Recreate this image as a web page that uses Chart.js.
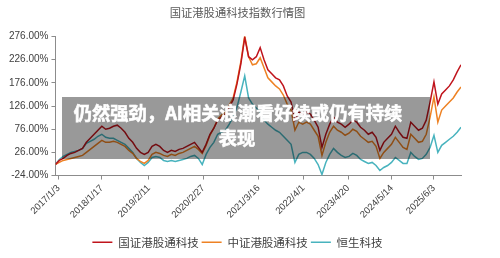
<!DOCTYPE html>
<html>
<head>
<meta charset="utf-8">
<title>国证港股通科技指数行情图</title>
<script src="https://cdn.jsdelivr.net/npm/chart.js@4.4.1/dist/chart.umd.min.js"></script>
<style>
  html, body { margin: 0; padding: 0; background: #fff; }
  #wrap { width: 500px; height: 258px; }
</style>
</head>
<body>
<div id="wrap"><canvas id="trendChart" width="500" height="258"></canvas></div>
<script>
/* chart data (cumulative % since 2017/1/3, about one point a month) */
const chartTitle = '国证港股通科技指数行情图';
const seriesNames = ['国证港股通科技', '中证港股通科技', '恒生科技'];

const gzValues = [
  0, 8.6, 13.0, 19.5, 23.8, 26.0, 30.3, 34.7, 47.7, 56.4, 65.1, 73.8,
  82.5, 76.0, 78.2, 82.5, 84.7, 78.2, 69.5, 56.4, 47.7, 34.7, 26.0, 21.7,
  26.0, 39.0, 43.4, 39.0, 30.3, 26.0, 30.3, 28.2, 32.5, 34.7, 39.0, 43.4,
  47.7, 36.9, 26.0, 43.4, 65.1, 78.2, 95.6, 102.1, 108.6, 123.8, 139.0, 173.8,
  217.3, 273.8, 232.5, 226.0, 232.5, 252.1, 226.0, 204.3, 195.6, 186.9, 182.5, 169.5,
  147.7, 134.7, 95.6, 113.0, 108.6, 113.0, 108.6, 95.6, 80.3, 36.9, 65.1, 86.9,
  102.1, 91.2, 86.9, 80.3, 86.9, 95.6, 91.2, 80.3, 73.8, 65.1, 69.5, 58.6,
  30.3, 47.7, 56.4, 65.1, 82.5, 69.5, 58.6, 56.4, 91.2, 82.5, 73.8, 78.2,
  95.6, 134.7, 178.2, 130.3, 152.1, 160.8, 169.5, 182.5, 199.9, 215.1
];

const zzValues = [
  0, 4.3, 8.6, 10.8, 13.0, 15.1, 17.3, 19.5, 26.0, 32.5, 39.0, 45.6,
  52.1, 47.7, 47.7, 49.9, 47.7, 43.4, 39.0, 30.3, 23.8, 13.0, 6.4, 2.1,
  8.6, 21.7, 26.0, 23.8, 19.5, 17.3, 21.7, 19.5, 23.8, 26.0, 30.3, 34.7,
  39.0, 32.5, 23.8, 41.2, 63.0, 78.2, 97.7, 106.4, 113.0, 128.2, 143.4, 178.2,
  221.6, 278.1, 232.5, 215.1, 217.3, 230.3, 208.6, 186.9, 178.2, 169.5, 163.0, 149.9,
  130.3, 117.3, 73.8, 91.2, 86.9, 91.2, 86.9, 73.8, 60.8, 19.5, 47.7, 69.5,
  82.5, 73.8, 69.5, 63.0, 67.3, 76.0, 71.7, 60.8, 54.3, 47.7, 49.9, 39.0,
  13.0, 26.0, 34.7, 43.4, 58.6, 47.7, 36.9, 32.5, 65.1, 56.4, 47.7, 49.9,
  65.1, 102.1, 145.6, 91.2, 117.3, 126.0, 134.7, 143.4, 156.4, 167.3
];

const hsValues = [
  0, 10.8, 17.3, 21.7, 26.0, 28.2, 30.3, 34.7, 45.6, 49.9, 54.3, 60.8,
  65.1, 58.6, 56.4, 56.4, 52.1, 47.7, 43.4, 34.7, 26.0, 13.0, 4.3, -2.3,
  4.3, 15.1, 17.3, 15.1, 8.6, 6.4, 8.6, 6.4, 8.6, 10.8, 13.0, 17.3,
  19.5, 13.0, -0.1, 21.7, 36.9, 47.7, 65.1, 69.5, 73.8, 86.9, 102.1, 123.8,
  156.4, 191.2, 143.4, 130.3, 121.7, 113.0, 95.6, 86.9, 80.3, 73.8, 69.5, 60.8,
  52.1, 43.4, 4.3, 21.7, 26.0, 26.0, 21.7, 13.0, -0.1, -21.8, 4.3, 21.7,
  34.7, 26.0, 19.5, 15.1, 17.3, 23.8, 19.5, 10.8, 6.4, 2.1, 4.3, -2.3,
  -13.1, -6.6, -2.3, 4.3, 15.1, 8.6, 2.1, 2.1, 26.0, 17.3, 10.8, 13.0,
  21.7, 36.9, 63.0, 26.0, 41.2, 47.7, 54.3, 60.8, 69.5, 80.3
];

const tickLabels = ['2017/1/3', '2018/1/17', '2019/2/11', '2020/2/27', '2021/3/16',
                    '2022/4/1', '2023/4/20', '2024/5/14', '2025/6/3'];
const tickPos = [0.8, 12, 24.2, 38.3, 52.6, 64.2, 75.8, 87.1, 98];
const yTicks = [-24, 26, 76, 126, 176, 226, 276];
const headline = ['仍然强劲，AI相关浪潮看好续或仍有持续', '表现'];

const lineColors = ['#C0141C', '#EE8224', '#48B3BE'];

function toPoints(values) {
  return values.map((v, i) => ({ x: i, y: v }));
}

/* grey caption band laid over the plot */
const captionPlugin = {
  id: 'caption',
  afterLayout(chart) {
    // title and legend sit a little right of the default centre
    [chart.titleBlock, chart.legend].forEach(box => {
      if (box) { box.left += 4; box.right += 4; }
    });
  },
  afterDraw(chart) {
    const ctx = chart.ctx;
    ctx.save();
    ctx.fillStyle = 'rgba(0,0,0,0.4)';
    ctx.fillRect(62, 97, 368, 62);
    ctx.fillStyle = '#fff';
    ctx.strokeStyle = '#fff';
    ctx.lineWidth = 0.6;
    ctx.font = 'bold 18.3px "Noto Sans CJK SC"';
    ctx.textAlign = 'center';
    ctx.textBaseline = 'middle';
    ctx.fillText(headline[0], 238, 113);
    ctx.strokeText(headline[0], 238, 113);
    ctx.fillText(headline[1], 237, 138);
    ctx.strokeText(headline[1], 237, 138);
    ctx.restore();
  }
};

const axisColor = '#8c8c8c';
const labelColor = '#404040';

new Chart(document.getElementById('trendChart'), {
  type: 'line',
  data: {
    datasets: [gzValues, zzValues, hsValues].map((vals, k) => ({
      label: seriesNames[k],
      data: toPoints(vals),
      borderColor: lineColors[k],
      backgroundColor: lineColors[k],
      borderWidth: 1.5,
      pointRadius: 0,
      pointStyle: 'line',
      tension: 0
    }))
  },
  options: {
    responsive: false,
    animation: false,
    devicePixelRatio: 1,
    layout: { padding: { left: 6, right: 39, top: 4, bottom: 0 } },
    plugins: {
      title: {
        display: true,
        text: chartTitle,
        color: '#595959',
        font: { family: '"Noto Sans CJK SC"', size: 11.3, weight: 'normal' },
        padding: { top: 2, bottom: 17 }
      },
      legend: {
        position: 'bottom',
        labels: {
          usePointStyle: true,
          pointStyleWidth: 20,
          padding: 3,
          color: labelColor,
          font: { family: '"Noto Sans CJK SC"', size: 11.5 }
        }
      },
      tooltip: { enabled: false }
    },
    scales: {
      x: {
        type: 'linear',
        min: 0,
        max: gzValues.length - 1,
        afterBuildTicks: axis => { axis.ticks = tickPos.map(v => ({ value: v })); },
        afterFit: axis => { axis.height += 10; },
        ticks: {
          minRotation: 45,
          maxRotation: 45,
          autoSkip: false,
          color: labelColor,
          font: { family: '"Liberation Sans"', size: 9.5 },
          callback: (v, i) => tickLabels[i]
        },
        grid: { drawOnChartArea: false, color: axisColor, tickLength: 4 },
        border: { color: axisColor }
      },
      y: {
        min: yTicks[0],
        max: yTicks[yTicks.length - 1],
        afterBuildTicks: axis => { axis.ticks = yTicks.map(v => ({ value: v })); },
        ticks: {
          color: labelColor,
          font: { family: '"Liberation Sans"', size: 10 },
          callback: v => v.toFixed(2) + '%'
        },
        grid: { drawOnChartArea: false, color: axisColor, tickLength: 4 },
        border: { color: axisColor }
      }
    }
  },
  plugins: [captionPlugin]
});
</script>
</body>
</html>
